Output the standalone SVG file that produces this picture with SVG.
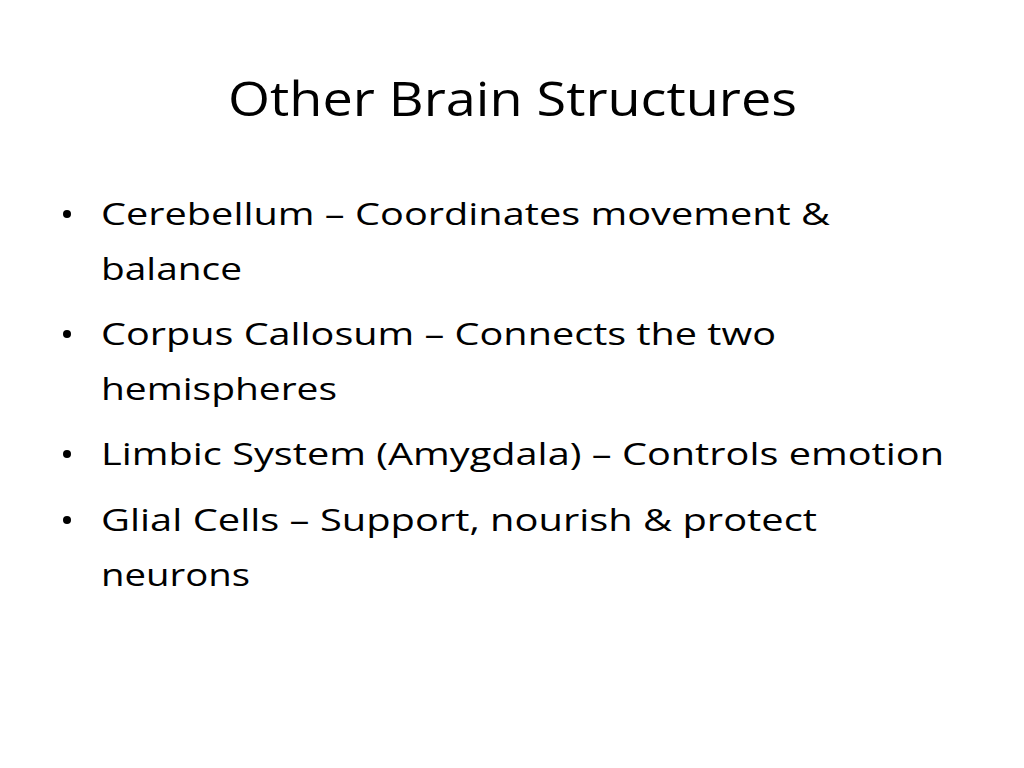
<svg xmlns="http://www.w3.org/2000/svg" width="1024" height="768" viewBox="0 0 1024 768">
<style>
.t{font-family:"Open Sans","Liberation Sans",sans-serif;fill:#000}
.b{font-size:31px}
</style>
<rect width="1024" height="768" fill="#fff"/>
<g id="title"><text class="t" x="228" y="116" font-size="47" textLength="569" lengthAdjust="spacingAndGlyphs">Other Brain Structures</text></g>
<g id="bullets">
<circle cx="67" cy="214" r="4"/>
<circle cx="67" cy="334" r="4"/>
<circle cx="67" cy="454" r="4"/>
<circle cx="67" cy="520" r="4"/>
<text class="t b" x="101" y="225" textLength="729" lengthAdjust="spacingAndGlyphs">Cerebellum – Coordinates movement &amp;</text>
<text class="t b" x="101" y="280" textLength="141" lengthAdjust="spacingAndGlyphs">balance</text>
<text class="t b" x="101" y="345" textLength="675" lengthAdjust="spacingAndGlyphs">Corpus Callosum – Connects the two</text>
<text class="t b" x="101" y="400" textLength="236" lengthAdjust="spacingAndGlyphs">hemispheres</text>
<text class="t b" x="101" y="465" textLength="843" lengthAdjust="spacingAndGlyphs">Limbic System (Amygdala) – Controls emotion</text>
<text class="t b" x="101" y="531" textLength="716" lengthAdjust="spacingAndGlyphs">Glial Cells – Support, nourish &amp; protect</text>
<text class="t b" x="101" y="586" textLength="149" lengthAdjust="spacingAndGlyphs">neurons</text>
</g>
</svg>
